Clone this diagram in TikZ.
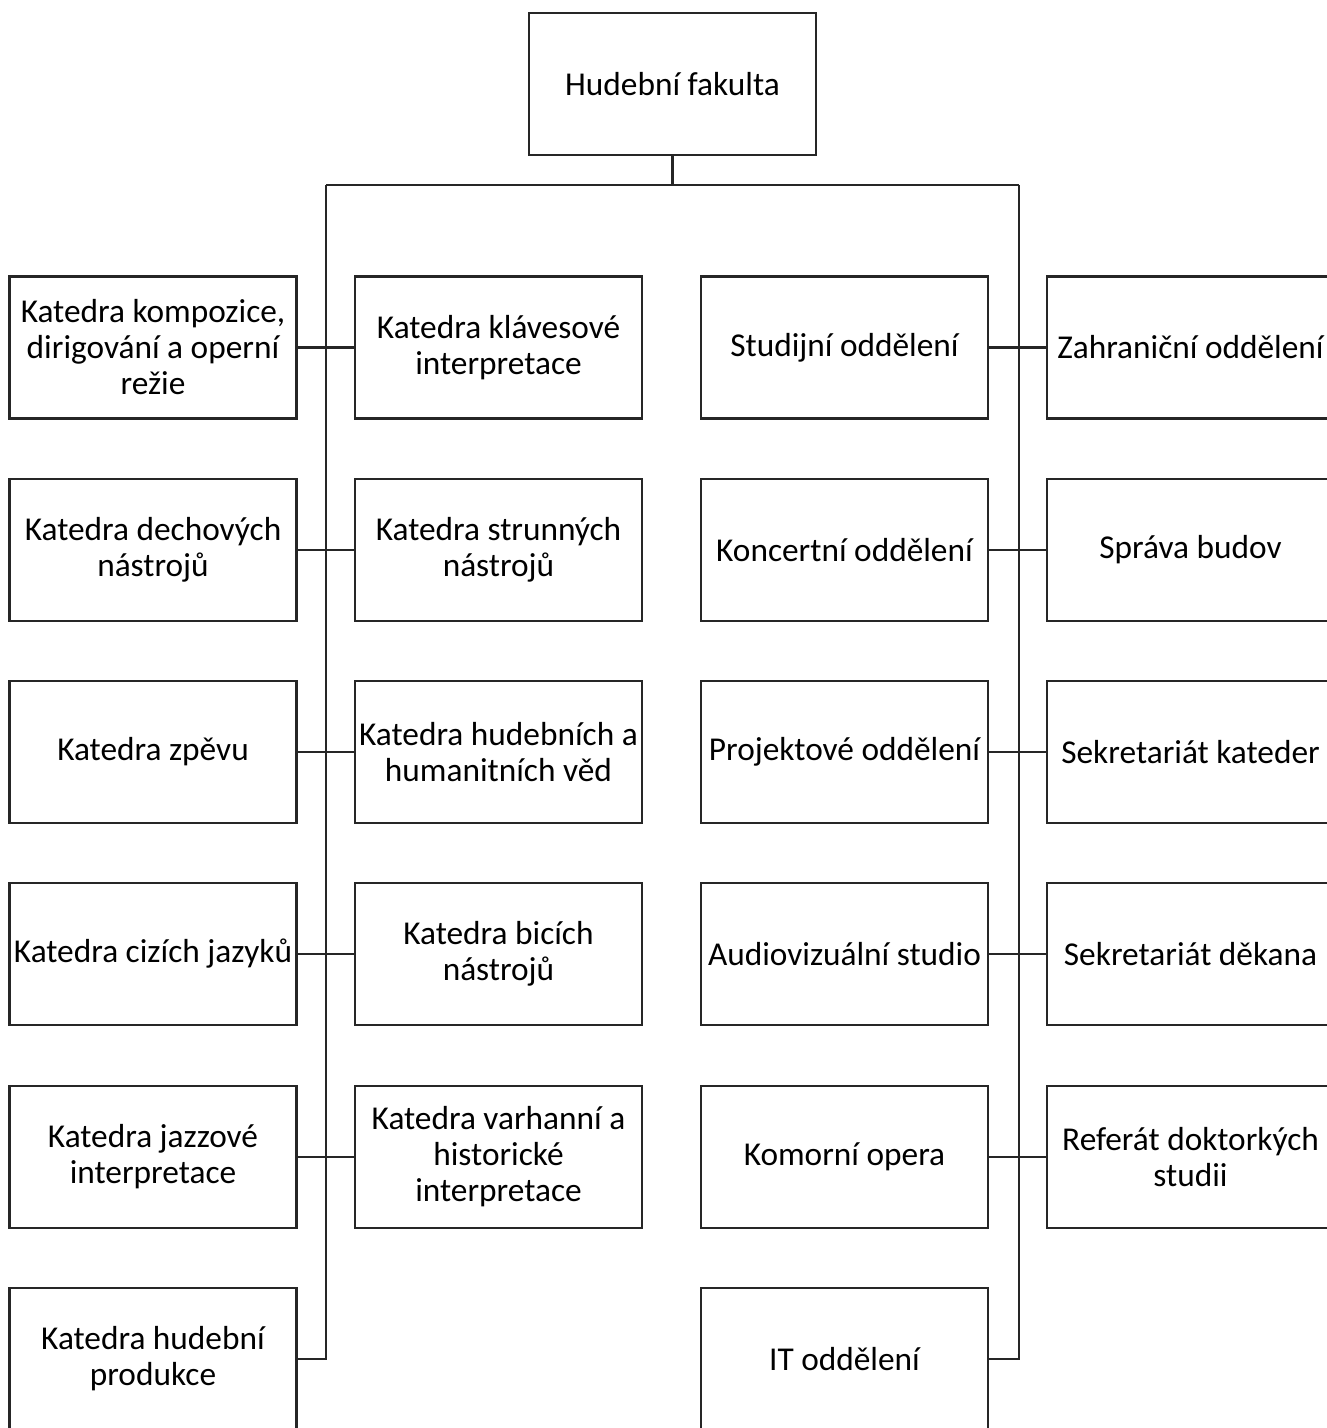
\documentclass[tikz,border=0pt]{standalone}
\usepackage{fontspec}
\setmainfont{Carlito}
\begin{document}
\begin{tikzpicture}[x=0.75pt,y=-0.75pt,
  box/.style={draw=black!85, line width=1.7pt, minimum width=215.25pt, minimum height=106.5pt,
    inner sep=0pt, align=center, font=\fontsize{25}{27}\selectfont, text=black},
  conn/.style={draw=black!85, line width=1.7pt}]
\useasboundingbox (0,0) rectangle (1327,1428);
\fill[white] (0,0) rectangle (1327,1428);
\clip (0,0) rectangle (1327,1428);

% top
\node[box] (top) at (672.5,84) {Hudební fakulta};

% column 1
\node[box] (a1) at (153,347.5) {Katedra kompozice,\\dirigování a operní\\režie};
\node[box] (a2) at (153,550) {Katedra dechových\\nástrojů};
\node[box] (a3) at (153,752) {Katedra zpěvu};
\node[box] (a4) at (153,954) {Katedra cizích jazyků};
\node[box] (a5) at (153,1157) {Katedra jazzové\\interpretace};
\node[box] (a6) at (153,1359) {Katedra hudební\\produkce};

% column 2
\node[box] (b1) at (498.5,347.5) {Katedra klávesové\\interpretace};
\node[box] (b2) at (498.5,550) {Katedra strunných\\nástrojů};
\node[box] (b3) at (498.5,752) {Katedra hudebních a\\humanitních věd};
\node[box] (b4) at (498.5,954) {Katedra bicích\\nástrojů};
\node[box] (b5) at (498.5,1157) {Katedra varhanní a\\historické\\interpretace};

% column 3
\node[box] (c1) at (844.5,347.5) {Studijní oddělení};
\node[box] (c2) at (844.5,550) {Koncertní oddělení};
\node[box] (c3) at (844.5,752) {Projektové oddělení};
\node[box] (c4) at (844.5,954) {Audiovizuální studio};
\node[box] (c5) at (844.5,1157) {Komorní opera};
\node[box] (c6) at (844.5,1359) {IT oddělení};

% column 4
\node[box] (d1) at (1190.5,347.5) {Zahraniční oddělení};
\node[box] (d2) at (1190.5,550) {Správa budov};
\node[box] (d3) at (1190.5,752) {Sekretariát kateder};
\node[box] (d4) at (1190.5,954) {Sekretariát děkana};
\node[box] (d5) at (1190.5,1157) {Referát doktorkých\\studii};

% trunk
\coordinate (tl) at (326,185);
\coordinate (tr) at (1019,185);
\draw[conn] (top.south) -- (top.south |- tl);
\draw[conn] (tl) -- (tr);
\draw[conn] (tl) |- (a6.east);
\draw[conn] (tr) |- (c6.east);

% row connectors
\foreach \i in {1,...,5}{
  \draw[conn] (a\i.east) -- (b\i.west);
  \draw[conn] (c\i.east) -- (d\i.west);
}
\end{tikzpicture}
\end{document}
